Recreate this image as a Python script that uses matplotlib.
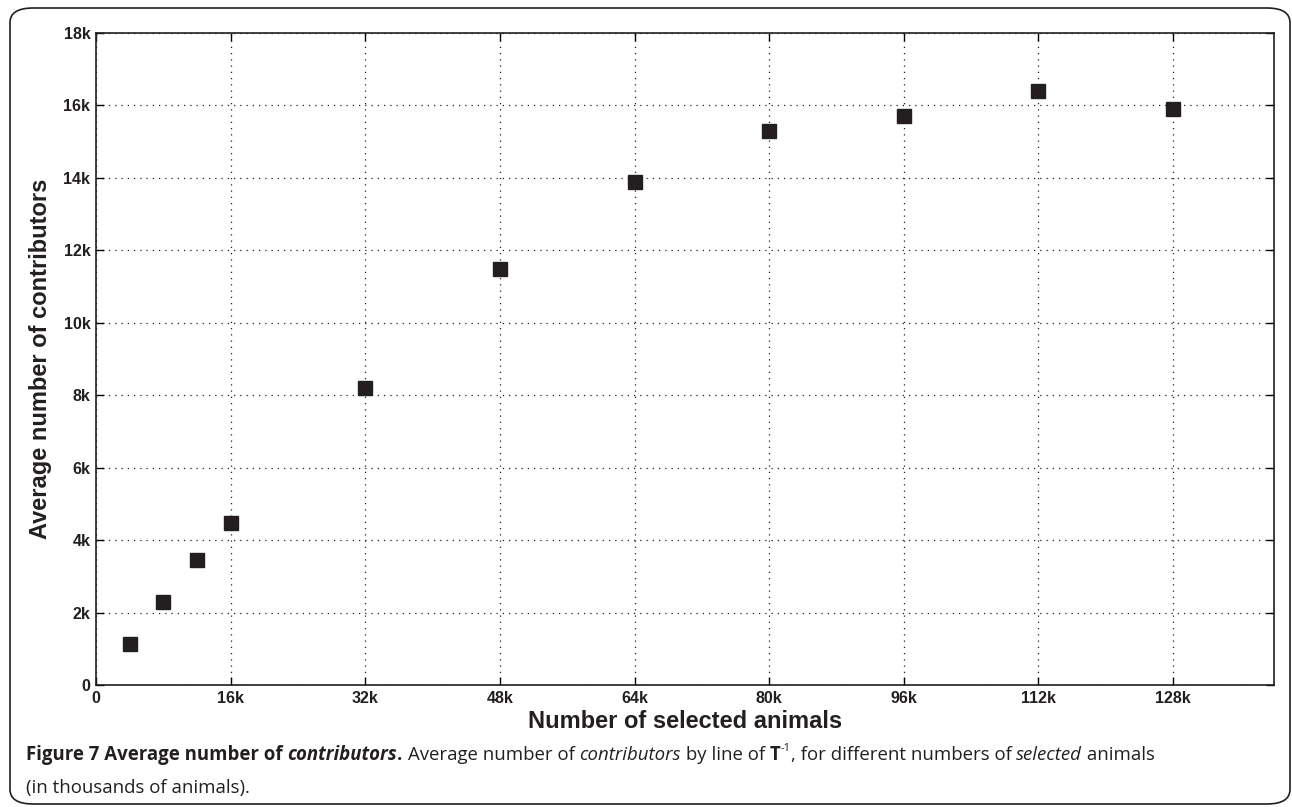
import matplotlib.pyplot as plt
from matplotlib.patches import FancyBboxPatch
from matplotlib.ticker import FuncFormatter

# number of selected animals (thousands) and average number of contributors
selected_k = [4, 8, 12, 16, 32, 48, 64, 80, 96, 112, 128]
contributors = [1130, 2290, 3440, 4460, 8200, 11490, 13890, 15290, 15710, 16390, 15910]

x_ticks = [0, 16, 32, 48, 64, 80, 96, 112, 128]
y_ticks = [0, 2000, 4000, 6000, 8000, 10000, 12000, 14000, 16000, 18000]

fig = plt.figure(figsize=(12.92, 8.07), dpi=100)
ax = fig.add_axes([96 / 1292, 1 - 685 / 807, 1178 / 1292, 652 / 807])

ax.plot(selected_k, contributors, linestyle="none", marker="s",
        markersize=9.5, color="#231f20")

ax.set_xlim(0, 140)
ax.set_ylim(0, 18000)
ax.set_xticks(x_ticks)
ax.set_yticks(y_ticks)
ax.xaxis.set_major_formatter(FuncFormatter(lambda v, p: "0" if v == 0 else f"{int(v)}k"))
ax.yaxis.set_major_formatter(FuncFormatter(lambda v, p: "0" if v == 0 else f"{int(v / 1000)}k"))
ax.tick_params(direction="in", top=True, right=True, length=6, width=1,
               labelsize=11.5, pad=4)
for lab in ax.get_xticklabels() + ax.get_yticklabels():
    lab.set_fontfamily("Liberation Sans")
    lab.set_fontweight("bold")
    lab.set_color("#231f20")
ax.grid(True, linestyle=(0, (1, 4)), color="#231f20", linewidth=0.9)
for s in ax.spines.values():
    s.set_linewidth(1.2)
    s.set_color("#231f20")

ax.set_xlabel("Number of selected animals", fontfamily="Liberation Sans",
              fontweight="bold", fontsize=17, color="#231f20", labelpad=3)
ax.set_ylabel("Average number of contributors", fontfamily="Liberation Sans",
              fontweight="bold", fontsize=17, color="#231f20", labelpad=8)

# rounded frame around figure
frame = FancyBboxPatch((10 / 1292, 3 / 807), 1280 / 1292, 796 / 807,
                       boxstyle="round,pad=0,rounding_size=0.018",
                       transform=fig.transFigure, fill=False,
                       edgecolor="#231f20", linewidth=1.2)
fig.patches.append(frame)

# caption, placed piece by piece
fig.canvas.draw()
renderer = fig.canvas.get_renderer()


def put(pieces, x0, y0):
    x = x0
    for txt, weight, style, dy, size in pieces:
        t = fig.text(x, y0 + dy, txt, fontfamily="Open Sans", fontweight=weight,
                     fontstyle=style, fontsize=size, color="#231f20",
                     va="baseline", ha="left")
        bb = t.get_window_extent(renderer)
        x += bb.width / fig.bbox.width


cap_size = 13.4
line1 = [
    ("Figure 7 Average number of ", "bold", "normal", 0, cap_size),
    ("contributors", "bold", "italic", 0, cap_size),
    (". ", "bold", "normal", 0, cap_size),
    ("Average number of ", "normal", "normal", 0, cap_size),
    ("contributors", "normal", "italic", 0, cap_size),
    (" by line of ", "normal", "normal", 0, cap_size),
    ("T", "bold", "normal", 0, cap_size),
    ("-1", "normal", "normal", 0.011, 8),
    (", for different numbers of ", "normal", "normal", 0, cap_size),
    ("selected", "normal", "italic", 0, cap_size),
    (" animals", "normal", "normal", 0, cap_size),
]
put(line1, 26 / 1292, 1 - 760 / 807)
put([("(in thousands of animals).", "normal", "normal", 0, cap_size)],
    26 / 1292, 1 - 793 / 807)

fig.savefig("out.png", dpi=100)
